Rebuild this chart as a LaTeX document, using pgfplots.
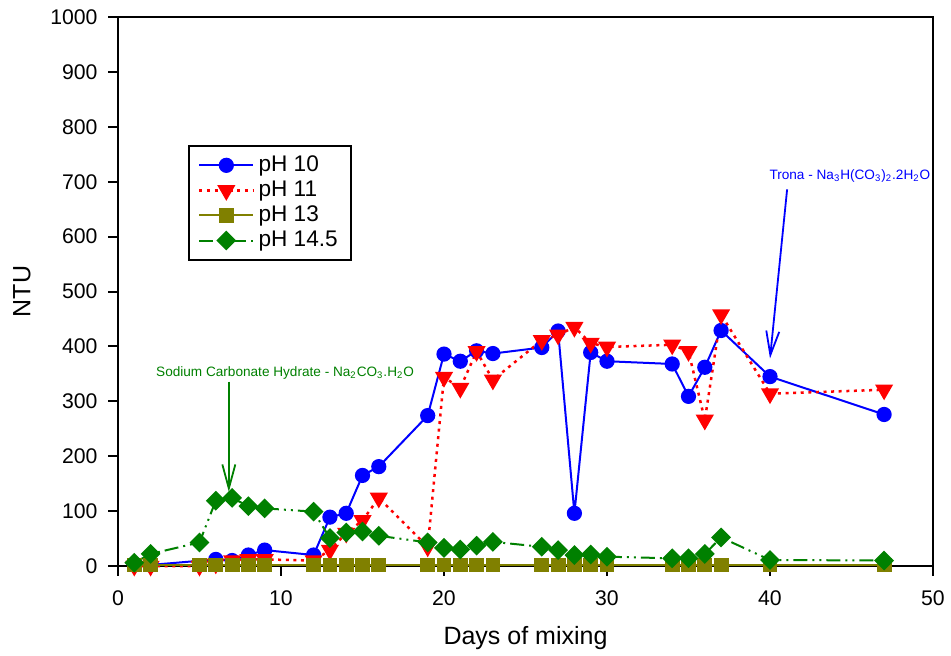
\documentclass[border=0pt]{standalone}
\usepackage{fontspec}
\setmainfont{Liberation Sans}
\usepackage{pgfplots}
\pgfplotsset{compat=1.18}
\usetikzlibrary{arrows.meta}
\definecolor{cblue}{RGB}{0,0,255}
\definecolor{cred}{RGB}{255,0,0}
\definecolor{colive}{RGB}{128,128,0}
\definecolor{cgreen}{RGB}{0,128,0}
\begin{document}
\begin{tikzpicture}
\begin{axis}[
  at={(0,0)}, anchor=south west,
  width=407.5pt, height=274.5pt, scale only axis,
  xmin=0, xmax=50, ymin=0, ymax=1000,
  xtick={0,10,...,50}, ytick={0,100,...,1000},
  tick align=outside, xtick pos=bottom, ytick pos=left,
  major tick length=4.75pt,
  axis line style={line width=1pt},
  every tick/.style={black, line width=1pt},
  tick label style={font=\fontsize{10.6}{12}\selectfont},
  xticklabel style={yshift=-4pt},
  yticklabel style={xshift=-2pt},
  /pgf/number format/assume math mode=true,
  /pgf/number format/1000 sep={},
  xlabel={Days of mixing}, ylabel={NTU},
  label style={font=\fontsize{12.5}{15}\selectfont},
  xlabel style={at={(axis description cs:0.5,0)}, anchor=north, yshift=-30pt, inner sep=0pt},
  ylabel style={at={(axis description cs:0,0.5)}, anchor=center, yshift=48pt, inner sep=0pt},
  clip=false,
  legend style={at={(0.086,0.767)}, anchor=north west, draw=black, line width=1pt,
    font=\fontsize{11.3}{12}\selectfont, row sep=-0.8pt, inner xsep=4.5pt, inner ysep=3pt,
    /tikz/every even column/.append style={column sep=4pt}},
  legend cell align=left,
  legend image code/.code={\draw[mark repeat=2,mark phase=2,#1] plot coordinates {(0pt,0pt) (13.5pt,0pt) (27pt,0pt)};},
]
\addplot[cblue, line width=1pt, mark=*, mark size=3.3pt, mark options={solid, fill=cblue}] coordinates {
(1,3) (2,2) (6,12) (7,10) (8,20) (9,29) (12,20) (13,89) (14,96) (15,165) (16,181) (19,274) (20,386) (21,373) (22,392) (23,387) (26,398) (27,428) (28,96) (29,389) (30,373) (34,368) (35,309) (36,362) (37,429) (40,345) (47,276)};
\addlegendentry{pH 10}
\addplot[cred, line width=1.25pt, dash pattern=on 1.5pt off 2.3pt, mark=triangle*, mark size=4pt, mark options={solid, fill=cred, rotate=180}] coordinates {
(1,0) (2,0) (5,0) (6,4) (7,10) (8,12) (9,12) (12,10) (13,29) (14,60) (15,83) (16,124) (19,35) (20,344) (21,324) (22,391) (23,339) (26,411) (27,421) (28,435) (29,406) (30,399) (34,403) (35,391) (36,266) (37,458) (40,314) (47,321)};
\addlegendentry{pH 11}
\addplot[colive, line width=1pt, mark=square*, mark size=3.2pt, mark options={solid, fill=colive}] coordinates {
(1,2) (2,2) (5,2) (6,2) (7,2) (8,2) (9,2) (12,2) (13,2) (14,2) (15,2) (16,2) (19,2) (20,2) (21,2) (22,2) (23,2) (26,2) (27,2) (28,2) (29,2) (30,2) (34,2) (35,2) (36,2) (37,2) (40,2) (47,2)};
\addlegendentry{pH 13}
\addplot[cgreen, line width=1pt, dash pattern=on 7pt off 2.5pt on 1pt off 2.5pt on 1pt off 2.5pt, mark=square*, mark size=3pt, mark options={solid, fill=cgreen, rotate=45}] coordinates {
(1,6) (2,22) (5,43) (6,119) (7,124) (8,109) (9,105) (12,99) (13,51) (14,61) (15,63) (16,55) (19,43) (20,33) (21,30) (22,37) (23,44) (26,35) (27,29) (28,20) (29,21) (30,17) (34,14) (35,14) (36,22) (37,52) (40,11) (47,10)};
\addlegendentry{pH 14.5}
\node[cgreen, font=\fontsize{6.8}{8}\selectfont, inner sep=0pt] at (axis cs:10.25,352) {Sodium Carbonate Hydrate - Na\textsubscript{2}CO\textsubscript{3}.H\textsubscript{2}O};
\draw[cgreen, line width=0.9pt, -{Straight Barb[length=12pt,width=6.5pt]}] (axis cs:6.8,336) -- (axis cs:6.8,135);
\node[cblue, font=\fontsize{6.8}{8}\selectfont, inner sep=0pt] at (axis cs:44.9,710) {Trona - Na\textsubscript{3}H(CO\textsubscript{3})\textsubscript{2}.2H\textsubscript{2}O};
\draw[cblue, line width=0.9pt, -{Straight Barb[length=12pt,width=6.5pt]}] (axis cs:41.05,686) -- (axis cs:40.0,378);
\end{axis}
\pgfresetboundingbox
\path[use as bounding box] (-59pt,-44.5pt) rectangle (416.5pt,283pt);
\end{tikzpicture}
\end{document}
